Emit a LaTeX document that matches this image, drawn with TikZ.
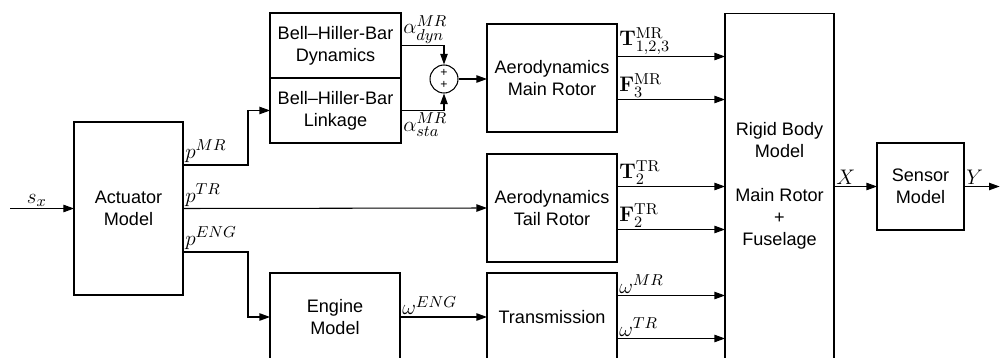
\documentclass[tikz,border=0pt]{standalone}
\usepackage[no-math]{fontspec}
\setmainfont{Liberation Sans}
\usetikzlibrary{arrows.meta,positioning,calc}

\begin{document}
\begin{tikzpicture}[x=0.02cm, y=-0.02cm, >={Triangle[length=6pt,width=4.2pt]}, every node/.style={font=\fontsize{10.3}{12.5}\selectfont}]
\tikzset{blk/.style={draw, line width=0.6pt, align=center, inner sep=0pt, outer sep=0pt}}
\tikzset{sig/.style={line width=0.6pt}}
\tikzset{lbl/.style={font=\fontsize{13}{15}\selectfont, inner sep=1pt}}
\clip (0,0) rectangle (1000,358);
% blocks
\node[blk, minimum width=2.18cm, minimum height=3.46cm] (act) at (128.5,208.5) {Actuator\\Model};
\node[blk, minimum width=2.62cm, minimum height=1.3cm] (dyn) at (335.5,45.5) {Bell--Hiller-Bar\\Dynamics};
\node[blk, minimum width=2.62cm, minimum height=1.3cm, below=0pt of dyn] (link) {Bell--Hiller-Bar\\Linkage};
\node[draw, line width=0.6pt, circle, minimum size=0.56cm, inner sep=0pt] (sum) at (444,79) {};
\node[font=\scriptsize, inner sep=0pt] (plusa) at ([yshift=0.12cm]sum.center) {+};
\node[font=\scriptsize, inner sep=0pt] (plusb) at ([yshift=-0.12cm]sum.center) {+};
\node[blk, minimum width=2.6cm, minimum height=2.16cm] (main) at (552,78) {Aerodynamics\\Main Rotor};
\node[blk, minimum width=2.6cm, minimum height=2.16cm] (tail) at (552,208) {Aerodynamics\\Tail Rotor};
\node[blk, minimum width=2.6cm, minimum height=1.76cm] (eng) at (335,317) {Engine\\Model};
\node[blk, minimum width=2.6cm, minimum height=1.76cm] (trans) at (552,317) {Transmission};
\node[blk, minimum width=2.18cm, minimum height=7.34cm] (rigid) at (779.5,196.5) {};
\node[align=center] (rtxt) at (779.5,186) {Rigid Body\\Model\\[12.5pt]Main Rotor\\+\\Fuselage};
\node[blk, minimum width=1.74cm, minimum height=1.74cm] (sensor) at (920.5,186.5) {Sensor\\Model};
\coordinate (in) at (10,208.5);
\coordinate (out) at (999.6,186.5);
% signals
\draw[sig,->] (in) -- node[lbl, above, pos=0.42] {$s_x$} (act.west);
\draw[sig,->] ([yshift=0.87cm]act.east) node[lbl, above right] {$p^{MR}$} -- ++(65,0) |- (link.west);
\draw[sig,->] (act.east) node[lbl, above right] {$p^{TR}$} -- (tail.west);
\draw[sig,->] ([yshift=-0.87cm]act.east) node[lbl, above right] {$p^{ENG}$} -- ++(65,0) |- (eng.west);
\draw[sig,->] (dyn.east) node[lbl, above right] {$\alpha^{MR}_{dyn}$} -| (sum.north);
\draw[sig,->] (link.east) node[lbl, below right] {$\alpha^{MR}_{sta}$} -| (sum.south);
\draw[sig,->] (sum.east) -- (sum.east -| main.west);
\draw[sig,->] ([yshift=0.43cm]main.east) node[lbl, above right] {$\mathbf{T}^{\mathrm{MR}}_{1,2,3}$} -- ([yshift=0.43cm]main.east -| rigid.west);
\draw[sig,->] ([yshift=-0.43cm]main.east) node[lbl, above right] {$\mathbf{F}^{\mathrm{MR}}_{3}$} -- ([yshift=-0.43cm]main.east -| rigid.west);
\draw[sig,->] ([yshift=0.43cm]tail.east) node[lbl, above right] {$\mathbf{T}^{\mathrm{TR}}_{2}$} -- ([yshift=0.43cm]tail.east -| rigid.west);
\draw[sig,->] ([yshift=-0.43cm]tail.east) node[lbl, above right] {$\mathbf{F}^{\mathrm{TR}}_{2}$} -- ([yshift=-0.43cm]tail.east -| rigid.west);
\draw[sig,->] (eng.east) node[lbl, above right] {$\omega^{ENG}$} -- (trans.west);
\draw[sig,->] ([yshift=0.43cm]trans.east) node[lbl, above right] {$\omega^{MR}$} -- ([yshift=0.43cm]trans.east -| rigid.west);
\draw[sig,->] ([yshift=-0.43cm]trans.east) node[lbl, above right] {$\omega^{TR}$} -- ([yshift=-0.43cm]trans.east -| rigid.west);
\draw[sig,->] (sensor.west -| rigid.east) node[lbl, above right] {$X$} -- (sensor.west);
\draw[sig,->] (sensor.east) node[lbl, above right] {$Y$} -- (out);
\end{tikzpicture}
\end{document}
